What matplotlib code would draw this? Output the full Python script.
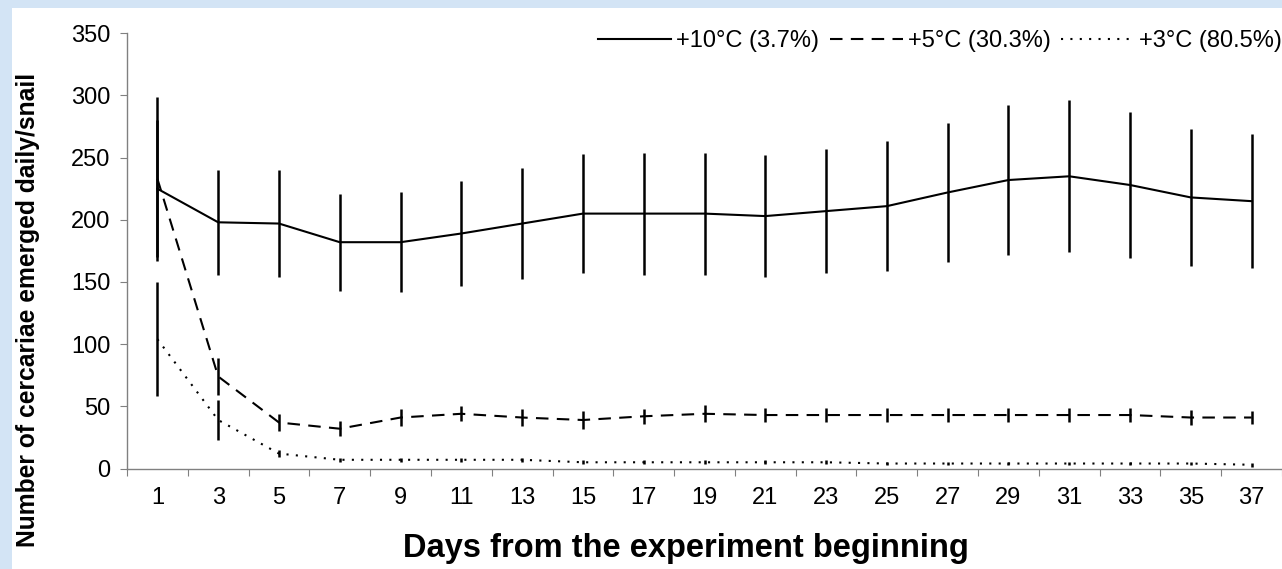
import numpy as np
import matplotlib
matplotlib.use("Agg")
import matplotlib.pyplot as plt
from matplotlib.patches import Rectangle

plt.rcParams['font.family'] = ['Liberation Sans', 'DejaVu Sans']

days = [1, 3, 5, 7, 9, 11, 13, 15, 17, 19, 21, 23, 25, 27, 29, 31, 33, 35, 37]

# +10 °C
t10_mean = [225, 198, 197, 182, 182, 189, 197, 205, 205, 205, 203, 207, 211, 222, 232, 235, 228, 218, 215]
t10_err = [55, 42, 43, 39, 40, 42, 45, 48, 49, 49, 49, 50, 52, 56, 60, 61, 59, 55, 54]
# +5 °C
t5_mean = [233, 74, 37, 32, 41, 44, 41, 39, 42, 44, 43, 43, 43, 43, 43, 43, 43, 41, 41]
t5_err = [66, 15, 7, 6, 7, 6, 6.5, 7, 6, 7, 6, 6, 6, 6, 6, 6, 6, 6, 5]
# +3 °C
t3_mean = [104, 39, 12, 7, 7, 7, 7, 5, 5, 5, 5, 5, 4, 4, 4, 4, 4, 4, 3]
t3_err = [46, 16, 3, 1.5, 1.5, 1.5, 1.5, 1.5, 1.5, 1.5, 1.5, 1.5, 1.5, 1.5, 1.5, 1.5, 1.5, 1.5, 1.5]

labels = ["+10°C (3.7%)", "+5°C (30.3%)", "+3°C (80.5%)"]

W, H = 1282, 569
fig = plt.figure(figsize=(W / 100, H / 100), dpi=100)
fig.patch.set_facecolor("white")

# light blue frame strips on the left and top
fig.add_artist(Rectangle((0, 0), 12 / W, 1, transform=fig.transFigure,
                         facecolor="#d3e4f5", edgecolor="none", zorder=0))
fig.add_artist(Rectangle((0, 1 - 8 / H), 1, 8 / H, transform=fig.transFigure,
                         facecolor="#d3e4f5", edgecolor="none", zorder=0))

x0, x1 = 127, 1282
y_top, y_bot = 33.3, 468.5
ax = fig.add_axes([x0 / W, (H - y_bot) / H, (x1 - x0) / W, (y_bot - y_top) / H])

x = np.arange(len(days)) + 0.5
lw = 1.5

ax.plot(x, t10_mean, color="black", lw=lw, linestyle="-", label=labels[0])
ax.plot(x, t5_mean, color="black", lw=lw, linestyle=(0, (6, 4)), label=labels[1])
ax.plot(x, t3_mean, color="black", lw=lw, linestyle=(0, (1, 3.5)), label=labels[2])

for m, e in [(t10_mean, t10_err), (t5_mean, t5_err), (t3_mean, t3_err)]:
    ax.errorbar(x, m, yerr=e, fmt="none", ecolor="black", elinewidth=1.8, capsize=0)

ax.set_xlim(0, (x1 - x0) / 61.0)
ax.set_ylim(0, 350)
ax.set_yticks(np.arange(0, 351, 50))
ax.set_xticks(np.arange(0, len(days) + 1))
ax.set_xticklabels([])
ax.set_xticks(x, minor=True)
ax.set_xticklabels([str(d) for d in days], minor=True)

for s in ["top", "right"]:
    ax.spines[s].set_visible(False)
for s in ["left", "bottom"]:
    ax.spines[s].set_color("#808080")
    ax.spines[s].set_linewidth(1.0)

ax.tick_params(axis="y", which="major", length=5, color="#808080", labelsize=17, pad=7)
ax.tick_params(axis="x", which="major", length=5, color="#808080")
ax.tick_params(axis="x", which="minor", length=0, labelsize=17, pad=13)

leg = ax.legend(loc="center right", bbox_to_anchor=(1.0, 1 - (41 - y_top) / (y_bot - y_top)),
                ncol=3, frameon=False, fontsize=17, handlelength=3.1, handletextpad=0.2,
                columnspacing=0.45, borderaxespad=0, borderpad=0)

fig.text(28 / W, 1 - 310 / H, "Number of cercariae emerged daily/snail", rotation=90,
         ha="center", va="center", fontsize=17.7, fontweight="bold")
fig.text(686 / W, 1 - 549 / H, "Days from the experiment beginning",
         ha="center", va="center", fontsize=23.5, fontweight="bold")

fig.savefig("out.png", dpi=100)
